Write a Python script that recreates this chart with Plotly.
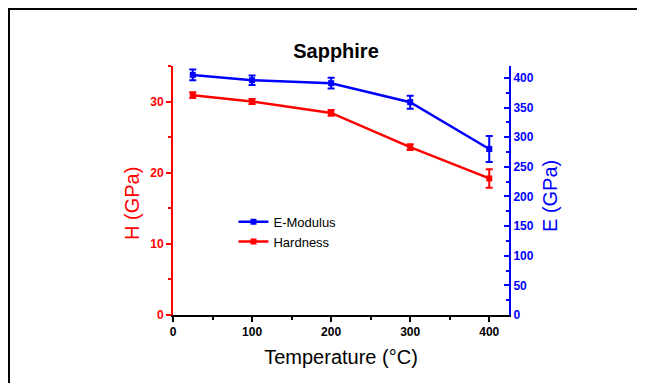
import plotly.graph_objects as go

temps = [25, 100, 200, 300, 400]
hardness = [30.9, 30.0, 28.4, 23.6, 19.2]
hardness_err = [0.4, 0.35, 0.4, 0.4, 1.3]
modulus = [405, 396, 391, 359, 280]
modulus_err = [9, 8, 9, 11, 22]

RED = "#ff0000"
BLUE = "#0000ff"
FONT = "Liberation Sans, Arial, sans-serif"

# page body adds an 8px offset; plot area in page coords: x 173..509, y 66..315
L, T, W, H = 165, 58, 336, 249

fig = go.Figure()
fig.add_trace(go.Scatter(
    x=temps, y=modulus, name="E-Modulus", mode="lines+markers",
    line=dict(color=BLUE, width=2.5),
    marker=dict(symbol="square", size=6, color=BLUE),
    error_y=dict(type="data", array=modulus_err, color=BLUE, thickness=2, width=3.5),
    yaxis="y2",
))
fig.add_trace(go.Scatter(
    x=temps, y=hardness, name="Hardness", mode="lines+markers",
    line=dict(color=RED, width=2.5),
    marker=dict(symbol="square", size=6, color=RED),
    error_y=dict(type="data", array=hardness_err, color=RED, thickness=2, width=3.5),
))

fig.update_layout(
    width=645, height=383,
    margin=dict(l=L, r=645 - L - W, t=T, b=383 - T - H),
    paper_bgcolor="white", plot_bgcolor="white",
    font=dict(family=FONT, color="black"),
    showlegend=True,
    legend=dict(x=0.18, y=0.435, xanchor="left", yanchor="top",
                bgcolor="rgba(0,0,0,0)", font=dict(size=13, color="black"),
                tracegroupgap=0, itemwidth=30),
    xaxis=dict(
        range=[0, 425], tickvals=[0, 100, 200, 300, 400], ticks="outside",
        ticklen=5, tickwidth=2, tickcolor="black",
        showline=True, linecolor="black", linewidth=2, showgrid=False, zeroline=False,
        tickfont=dict(size=12, color="black", weight="bold"),
        minor=dict(dtick=50, ticks="outside", ticklen=3, tickwidth=2, tickcolor="black"),
        title=dict(text="Temperature (°C)", font=dict(size=20, color="black"), standoff=12),
    ),
    yaxis=dict(
        range=[0, 35], dtick=10, ticks="outside", ticklen=5, tickwidth=2, tickcolor=RED,
        showline=True, linecolor=RED, linewidth=2, showgrid=False, zeroline=False,
        tickfont=dict(size=12, color=RED, weight="bold"),
        minor=dict(dtick=5, ticks="outside", ticklen=3, tickwidth=2, tickcolor=RED),
    ),
    yaxis2=dict(
        range=[0, 420], dtick=50, overlaying="y", side="right", anchor="x",
        ticks="inside", ticklen=5, tickwidth=2, tickcolor=BLUE,
        showline=True, linecolor=BLUE, linewidth=2, showgrid=False, zeroline=False,
        tickfont=dict(size=12, color=BLUE, weight="bold"),
        minor=dict(dtick=25, ticks="inside", ticklen=3, tickwidth=2, tickcolor=BLUE),
    ),
    title=dict(text="<b>Sapphire</b>", font=dict(size=20, color="black"),
               xref="paper", x=(336 - 173) / W, xanchor="center",
               yref="container", y=1 - 43 / 383, yanchor="middle"),
    annotations=[
        dict(text="H (GPa)", xref="paper", yref="paper",
             x=(132 - 173) / W, y=(315 - 204) / H, textangle=-90,
             showarrow=False, font=dict(size=20, color=RED),
             xanchor="center", yanchor="middle"),
        dict(text="E (GPa)", xref="paper", yref="paper",
             x=(550 - 173) / W, y=(315 - 196) / H, textangle=-90,
             showarrow=False, font=dict(size=20, color=BLUE),
             xanchor="center", yanchor="middle"),
    ],
    shapes=[dict(type="rect", xref="paper", yref="paper",
                 x0=(9 - 173) / W, x1=(660 - 173) / W,
                 y0=(315 - 400) / H, y1=(315 - 9) / H,
                 line=dict(color="black", width=2), fillcolor="rgba(0,0,0,0)")],
)

fig.write_html("out.html")
